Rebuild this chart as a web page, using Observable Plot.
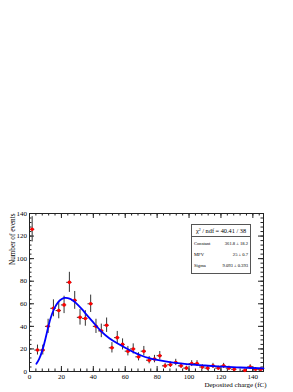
<!DOCTYPE html>
<html>
<head>
<meta charset="utf-8">
<script src="https://cdn.jsdelivr.net/npm/d3@7"></script>
<script src="https://cdn.jsdelivr.net/npm/@observablehq/plot@0.6"></script>
<style>
  html, body { margin: 0; padding: 0; background: #fff; }
  #wrap { position: relative; width: 293px; height: 392px; font-family: "Liberation Serif", "DejaVu Serif", serif; }
  #stats { position: absolute; left: 191px; top: 224px; width: 58px; height: 48px; border: 1px solid #555; background: #fff; box-sizing: content-box; }
  #stats .hdr { position: absolute; left: 0; right: 0; top: 0; height: 11px; border-bottom: 1px solid #555; font-size: 6.3px; line-height: 11px; text-align: center; white-space: nowrap; }
  #stats .hdr sup { font-size: 4px; vertical-align: 2.5px; line-height: 0; }
  #stats .row { position: absolute; left: 2px; right: 2px; height: 6px; font-size: 4.6px; line-height: 6px; white-space: nowrap; }
  #stats .row .v { position: absolute; right: 0; top: 0; }
</style>
</head>
<body>
<div id="wrap"></div>
<script>
// Histogram: bin width and counts
const xMin = 0;
const xMax = 146.67;
const nBins = 44;
const counts = [126,19,19,40,56,54,59,79,63,48,47,60,40,36,41,21,30,24,18,20,13,18,10,11,14,5,6,8,5,3,7,7,4,3,5,3,5,3,2,0,1,4,2,2];
const errors = [11.2,4.4,4.4,6.3,7.5,7.3,7.7,8.9,7.9,6.9,6.9,7.7,6.3,6.0,6.4,4.6,5.5,4.9,4.2,4.5,3.6,4.2,3.2,3.3,3.7,2.2,2.4,2.8,2.2,1.7,2.6,2.6,2.0,1.7,2.2,1.7,2.2,1.7,1.4,0,1.0,2.0,1.4,1.4];

// Fit curve (Landau)
const fitX = [4.3,6,8,10,12,14,16,18,20,22,24,26,28,30,33,36,40,45,50,55,60,65,70,75,80,90,100,110,120,130,140,146.67];
const fitY = [6.8,11,18.5,29,41,50.5,57,61.5,64,65.2,65.1,64,62,59.5,55,50,43.5,35.5,29.5,25,21,17.3,14.2,11.8,10.2,7.9,6.4,5.3,4.4,3.7,3.1,2.8];

// Axis ticks
const xMajor = [0,20,40,60,80,100,120,140];
const xMinor = d3.range(0, 147, 4);
const yMajor = [0,20,40,60,80,100,120,140];
const yMinor = d3.range(0, 141, 4);

// Texts
const xTitle = "Deposited charge (fC)";
const yTitle = "Number of events";
const statHeader = "χ<sup>2</sup> / ndf = 40.41 / 38";
const statNames = ["Constant", "MPV", "Sigma"];
const statValues = ["361.8 ± 18.2", "25 ± 0.7", "9.093 ± 0.393"];

const W = 293, H = 392;
const mT = 213, mB = 21, mL = 29, mR = 30;
const plotW = W - mL - mR, plotH = H - mT - mB;
const majLen = 5, minLen = 2.5;

const binW = (xMax - xMin) / nBins;
const pts = counts.map((c, i) => ({
  x: xMin + (i + 0.5) * binW,
  x1: xMin + i * binW,
  x2: xMin + (i + 1) * binW,
  y: c,
  e: errors[i]
})).filter(d => d.y > 0);
const fit = fitX.map((x, i) => ({x, y: fitY[i]}));

const tickStroke = "#222";
const chart = Plot.plot({
  width: W, height: H,
  marginTop: mT, marginBottom: mB, marginLeft: mL, marginRight: mR,
  style: {fontFamily: "'Liberation Serif', serif", background: "#fff", overflow: "visible"},
  x: {domain: [xMin, xMax]},
  y: {domain: [0, 140]},
  marks: [
    Plot.tickX(xMinor, {x: d => d, insetTop: plotH - minLen, stroke: tickStroke}),
    Plot.tickX(xMajor, {x: d => d, insetTop: plotH - majLen, stroke: tickStroke}),
    Plot.tickX(xMinor, {x: d => d, insetBottom: plotH - minLen, stroke: tickStroke}),
    Plot.tickX(xMajor, {x: d => d, insetBottom: plotH - majLen, stroke: tickStroke}),
    Plot.tickY(yMinor, {y: d => d, insetRight: plotW - minLen, stroke: tickStroke}),
    Plot.tickY(yMajor, {y: d => d, insetRight: plotW - majLen, stroke: tickStroke}),
    Plot.tickY(yMinor, {y: d => d, insetLeft: plotW - minLen, stroke: tickStroke}),
    Plot.tickY(yMajor, {y: d => d, insetLeft: plotW - majLen, stroke: tickStroke}),
    Plot.frame({stroke: tickStroke, strokeWidth: 1}),
    Plot.axisX({ticks: xMajor, tickSize: 0, tickPadding: 2.5, label: null, fontSize: 7, tickFormat: d => String(d)}),
    Plot.axisY({ticks: yMajor, tickSize: 0, tickPadding: 2.5, label: null, fontSize: 7, tickFormat: d => String(d)}),
    Plot.text([xTitle], {frameAnchor: "bottom-right", textAnchor: "end", dx: 3, dy: 15, fontSize: 7, fill: "#000"}),
    Plot.text([yTitle], {frameAnchor: "top-left", textAnchor: "end", rotate: -90, dx: -19.5, dy: 0, fontSize: 7.2, fill: "#000"}),
    Plot.ruleX(pts, {x: "x", y1: d => d.y - d.e, y2: d => d.y + d.e, stroke: "#333", strokeWidth: 1}),
    Plot.ruleY(pts, {y: "y", x1: "x1", x2: "x2", stroke: "#333", strokeWidth: 1}),
    Plot.dot(pts, {x: "x", y: "y", r: 1.8, fill: "#ff0000", stroke: "none"}),
    Plot.line(fit, {x: "x", y: "y", stroke: "#0000ff", strokeWidth: 1.8, curve: "natural"})
  ]
});
const wrap = document.getElementById("wrap");
wrap.appendChild(chart);

const box = document.createElement("div");
box.id = "stats";
const hdr = document.createElement("div");
hdr.className = "hdr";
hdr.innerHTML = statHeader;
box.appendChild(hdr);
const rowTops = [16, 27, 38];
statNames.forEach((n, i) => {
  const r = document.createElement("div");
  r.className = "row";
  r.style.top = rowTops[i] + "px";
  r.textContent = n;
  const v = document.createElement("span");
  v.className = "v";
  v.textContent = statValues[i];
  r.appendChild(v);
  box.appendChild(r);
});
wrap.appendChild(box);
</script>
</body>
</html>
